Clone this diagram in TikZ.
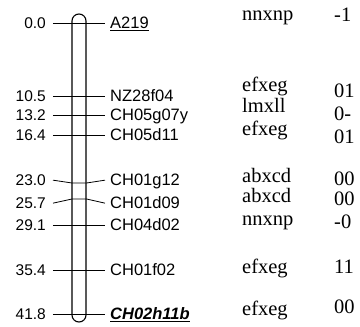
\documentclass[tikz,border=0pt]{standalone}
\usepackage{fontspec}
\setmainfont{Liberation Serif}
\setsansfont{Liberation Sans}
\usetikzlibrary{positioning}

\begin{document}
\begin{tikzpicture}[x=1pt, y=-1pt,
  chrom/.style={draw=black, fill=white, line width=1.1pt, rounded corners=7pt,
    minimum width=14pt, minimum height=308pt, inner sep=0pt},
  posnum/.style={font=\sffamily\fontsize{15.5}{18}\selectfont, anchor=base east,
    inner xsep=7pt, inner ysep=0pt},
  mrk/.style={font=\sffamily\fontsize{16.5}{19}\selectfont, anchor=base west,
    inner xsep=5pt, inner ysep=0pt},
  grp/.style={font=\fontsize{20.5}{23}\selectfont, anchor=base west, inner sep=0pt},
  val/.style={font=\fontsize{20.5}{23}\selectfont, anchor=base west, inner sep=0pt},
  tickline/.style={line width=0.8pt, draw=black}
]
  \useasboundingbox (0,0) rectangle (360,327);

  \node[chrom] (chr) at (79,168) {};

  % map positions
  \node[posnum] (p00) at (53,28.5) {0.0};
  \node[posnum] (p105) at (53,101.5) {10.5};
  \node[posnum] (p132) at (53,120.5) {13.2};
  \node[posnum] (p164) at (53,140.5) {16.4};
  \node[posnum] (p230) at (53,185.5) {23.0};
  \node[posnum] (p257) at (53,208.5) {25.7};
  \node[posnum] (p291) at (53,230.5) {29.1};
  \node[posnum] (p354) at (53,275.5) {35.4};
  \node[posnum] (p418) at (53,319.5) {41.8};

  % markers
  \node[mrk] (mA219) at (105,28.5) {\underline{A219}};
  \node[mrk] (mNZ) at (105,101.5) {NZ28f04};
  \node[mrk] (mCH05g) at (105,120.5) {CH05g07y};
  \node[mrk] (mCH05d) at (105,140.5) {CH05d11};
  \node[mrk] (mCH01g) at (105,185.5) {CH01g12};
  \node[mrk] (mCH01d) at (105,208.5) {CH01d09};
  \node[mrk] (mCH04d) at (105,230.5) {CH04d02};
  \node[mrk] (mCH01f) at (105,275.5) {CH01f02};
  \node[mrk] (mCH02h) at (105,319.5) {\textbf{\textit{\underline{CH02h11b}}}};

  \coordinate (t230) at (72,183);
  \coordinate (t257) at (72,199);

  \draw[tickline] (p00.east) -- (p00.east -| mA219.west);
  \draw[tickline] (p105.east) -- (p105.east -| mNZ.west);
  \draw[tickline] (p132.east) -- (p132.east -| mCH05g.west);
  \draw[tickline] (p164.east) -- (p164.east -| mCH05d.west);
  \draw[tickline] (p230.east) -- (t230) -- (t230 -| chr.east) -- (p230.east -| mCH01g.west);
  \draw[tickline] (p257.east) -- (t257) -- (t257 -| chr.east) -- (p257.east -| mCH01d.west);
  \draw[tickline] (p291.east) -- (p291.east -| mCH04d.west);
  \draw[tickline] (p354.east) -- (p354.east -| mCH01f.west);
  \draw[tickline] (p418.east) -- (p418.east -| mCH02h.west);

  % groups and scores
  \node[grp] (g1) at (242,20) {nnxnp};
  \node[grp] (g2) at (242,91) {efxeg};
  \node[grp] (g3) at (242,112) {lmxll};
  \node[grp] (g4) at (242,135) {efxeg};
  \node[grp] (g5) at (242,182) {abxcd};
  \node[grp] (g6) at (242,202) {abxcd};
  \node[grp] (g7) at (242,225) {nnxnp};
  \node[grp] (g8) at (242,273) {efxeg};
  \node[grp] (g9) at (242,315) {efxeg};

  \node[val] (v1) at (334,21) {-1};
  \node[val] (v2) at (334,97) {01};
  \node[val] (v3) at (334,120) {0-};
  \node[val] (v4) at (334,143) {01};
  \node[val] (v5) at (334,185) {00};
  \node[val] (v6) at (334,205) {00};
  \node[val] (v7) at (334,228) {-0};
  \node[val] (v8) at (334,273) {11};
  \node[val] (v9) at (334,313) {00};
\end{tikzpicture}
\end{document}
